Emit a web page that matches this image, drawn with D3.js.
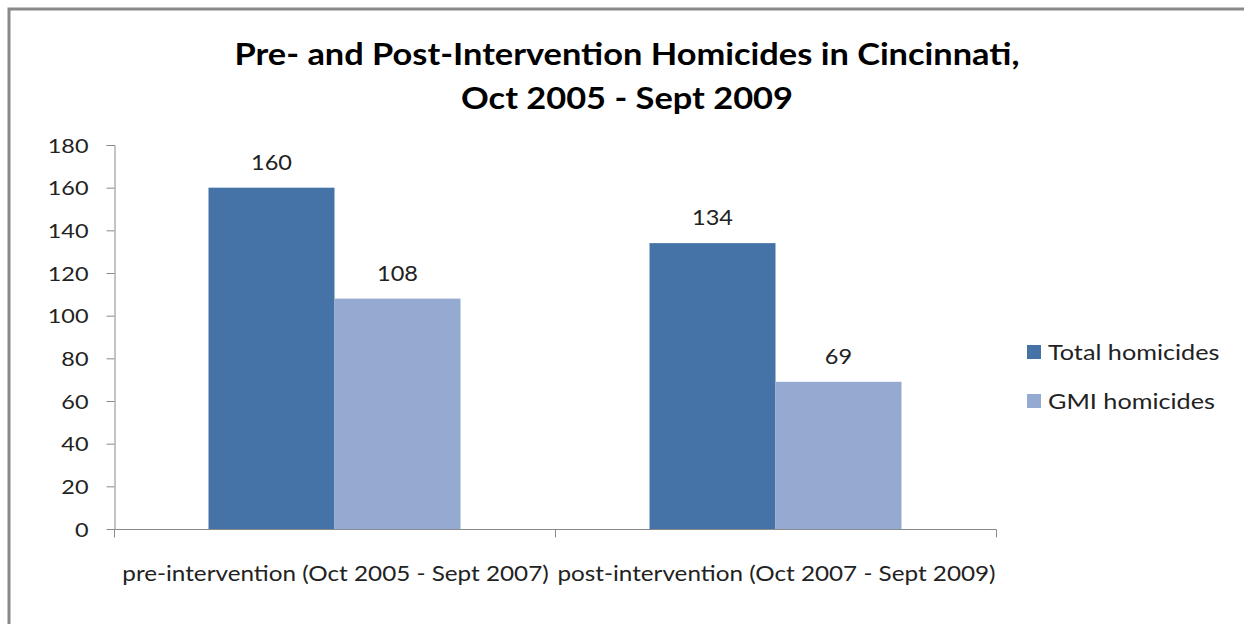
<!DOCTYPE html>
<html><head><meta charset="utf-8">
<script src="https://cdn.jsdelivr.net/npm/d3@7"></script>
<style>body{margin:0;background:#fff}svg{display:block}text{font-family:Lato,"Open Sans",sans-serif}</style>
</head><body>
<svg id="c" width="1244" height="624"></svg>
<script>
const categories = ["pre-intervention (Oct 2005 - Sept 2007)", "post-intervention (Oct 2007 - Sept 2009)"];
const seriesNames = ["Total homicides", "GMI homicides"];
const totalHomicides = [160, 134];
const gmiHomicides = [108, 69];
const yTicks = [0, 20, 40, 60, 80, 100, 120, 140, 160, 180];
const colors = ["#4572A7", "#95AAD1"];
const titleLines = ["Pre- and Post-Intervention Homicides in Cincinnati,", "Oct 2005 - Sept 2009"];

const svg = d3.select("#c");
function stretch(sel, f) {
  sel.each(function() {
    const w = this.getComputedTextLength();
    d3.select(this).attr("textLength", w * f).attr("lengthAdjust", "spacingAndGlyphs");
  });
}
// frame
svg.append("path").attr("d","M9,624 V9 H1244").attr("fill","none").attr("stroke","#8a8a8a").attr("stroke-width",3);

const x0 = d3.scaleBand().domain(categories).range([114, 996]).paddingInner(0).paddingOuter(0);
const y = d3.scaleLinear().domain([0, 180]).range([529, 145]);
const x1 = d3.scaleBand().domain(seriesNames).range([0, x0.bandwidth()]).paddingOuter(0.75).paddingInner(0);

// title
const tt = svg.selectAll("text.title").data(titleLines).join("text").attr("class","title")
  .attr("x", 627).attr("y", (d,i)=>65+i*44).attr("text-anchor","middle")
  .attr("font-size", 30).attr("font-weight","bold").attr("fill","#000").text(d=>d);
const tf = 785 / tt.node().getComputedTextLength();
stretch(tt, tf);

// y axis
const yAxis = d3.axisLeft(y).tickValues(yTicks).tickSize(8).tickPadding(18);
const gy = svg.append("g").attr("transform","translate(114.5,0)").call(yAxis);
gy.select(".domain").attr("stroke","#8a8a8a").attr("d","M-8,145.5H0.5V529.5");
gy.selectAll(".tick line").attr("stroke","#8a8a8a");
gy.selectAll(".tick text").attr("font-size",20).attr("fill","#222").attr("font-family","Lato, sans-serif").attr("dy","0.36em");
stretch(gy.selectAll(".tick text"), 1.17);

// x axis
const gx = svg.append("g").attr("transform","translate(0,529.5)");
gx.append("line").attr("x1",114).attr("x2",996.5).attr("stroke","#8a8a8a");
const bounds = [114, 114 + x0.bandwidth(), 996];
gx.selectAll("line.t").data(bounds).join("line").attr("class","t")
  .attr("x1",d=>Math.round(d)+0.5).attr("x2",d=>Math.round(d)+0.5).attr("y1",0).attr("y2",8).attr("stroke","#8a8a8a");
const cl = gx.selectAll("text").data(categories).join("text")
  .attr("x", d=>x0(d)+x0.bandwidth()/2 + 1).attr("y", 51.5).attr("text-anchor","middle")
  .attr("font-size",21).attr("fill","#222").text(d=>d);
stretch(cl, 1.155);

// bars
const data = categories.map((c,i)=>({cat:c, vals:[totalHomicides[i], gmiHomicides[i]]}));
const groups = svg.append("g").selectAll("g").data(data).join("g")
  .attr("transform", d=>`translate(${x0(d.cat)},0)`);
groups.selectAll("rect").data(d=>d.vals.map((v,j)=>({s:seriesNames[j], v, j}))).join("rect")
  .attr("x", d=>x1(d.s)).attr("width", x1.bandwidth()).attr("y", d=>y(d.v)).attr("height", d=>y(0)-y(d.v))
  .attr("fill", d=>colors[d.j]);
const dl = groups.selectAll("text").data(d=>d.vals.map((v,j)=>({s:seriesNames[j], v, j}))).join("text")
  .attr("x", d=>x1(d.s)+x1.bandwidth()/2).attr("y", d=>y(d.v)-18).attr("text-anchor","middle")
  .attr("font-size",21).attr("fill","#222").text(d=>d.v);
stretch(dl, 1.12);

// legend
const lg = svg.append("g").selectAll("g").data(seriesNames).join("g")
  .attr("transform",(d,i)=>`translate(1027,${345+i*49})`);
lg.append("rect").attr("width",14).attr("height",14).attr("fill",(d,i)=>colors[i]);
const lt = lg.append("text").attr("x",21).attr("y",14.5).attr("font-size",21).attr("fill","#222").text(d=>d);
stretch(lt, 1.2);
</script>
</body></html>
